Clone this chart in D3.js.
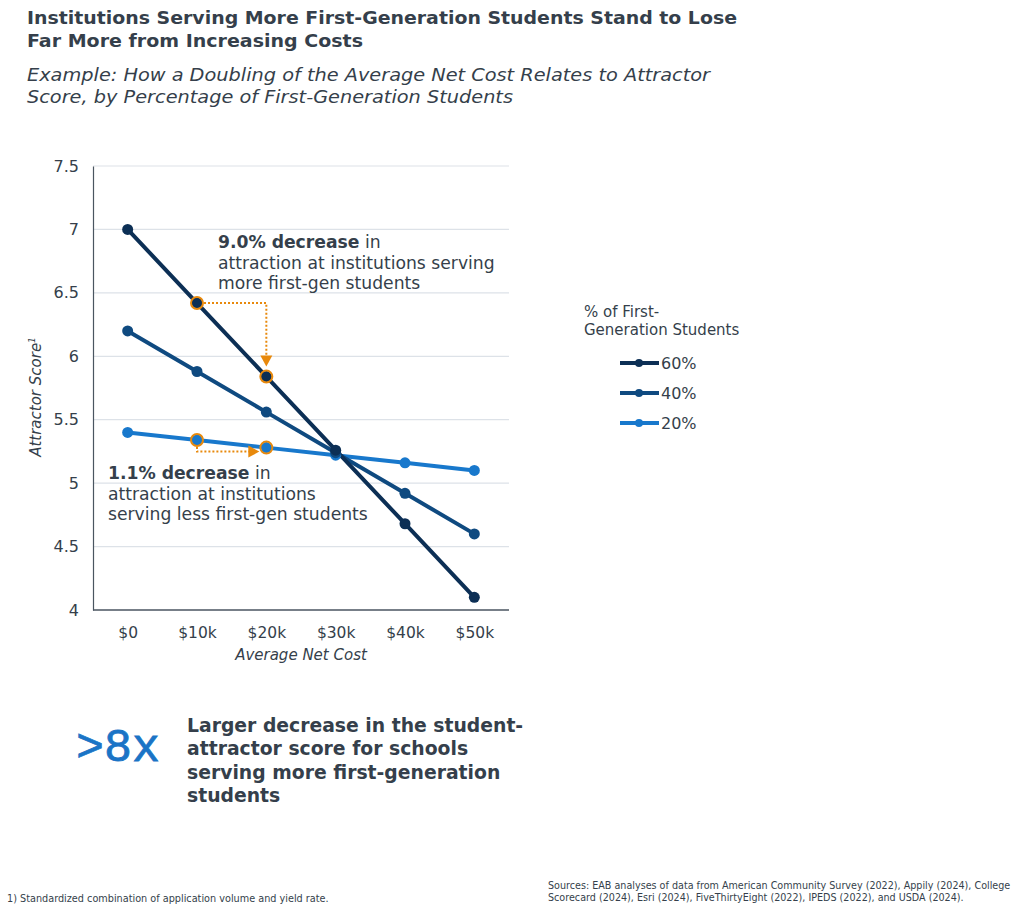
<!DOCTYPE html>
<html><head><meta charset="utf-8">
<script src="https://cdn.jsdelivr.net/npm/d3@7"></script>
<style>body{margin:0;background:#fff;} svg{display:block;}</style>
</head><body>
<svg id="c" width="1024" height="910"></svg>
<script>
const categories = ["$0","$10k","$20k","$30k","$40k","$50k"];
const seriesNames = ["60%","40%","20%"];
const values60 = [7.00,6.42,5.84,5.26,4.68,4.10];
const values40 = [6.20,5.88,5.56,5.24,4.92,4.60];
const values20 = [5.40,5.34,5.28,5.22,5.16,5.10];
const yTicks = [4,4.5,5,5.5,6,6.5,7,7.5];
const colors = {"60%":"#0c2f55","40%":"#0f4a80","20%":"#1878cc"};
const series = [
  {name:"60%", values:values60},
  {name:"40%", values:values40},
  {name:"20%", values:values20}
];
const textCol = "#353f4b";
const orange = "#e8890c";
const body = "DejaVu Sans, Verdana, sans-serif";

const svg = d3.select("#c");
// Title
const title = svg.append("text").attr("font-family",body).attr("font-weight","bold")
  .attr("font-size",18).attr("fill",textCol);
title.append("tspan").attr("x",27).attr("y",24).attr("textLength",710).attr("lengthAdjust","spacingAndGlyphs")
  .text("Institutions Serving More First-Generation Students Stand to Lose");
title.append("tspan").attr("x",27).attr("y",47).attr("textLength",336).attr("lengthAdjust","spacingAndGlyphs")
  .text("Far More from Increasing Costs");
const sub = svg.append("text").attr("font-family",body).attr("font-style","italic")
  .attr("font-size",17.5).attr("fill",textCol);
sub.append("tspan").attr("x",27).attr("y",81).attr("textLength",683).attr("lengthAdjust","spacingAndGlyphs")
  .text("Example: How a Doubling of the Average Net Cost Relates to Attractor");
sub.append("tspan").attr("x",27).attr("y",103).attr("textLength",486).attr("lengthAdjust","spacingAndGlyphs")
  .text("Score, by Percentage of First-Generation Students");

// scales
const x = d3.scalePoint().domain(categories).range([93,509]).padding(0.5);
const y = d3.scaleLinear().domain([4,7.5]).range([610,166]);

// gridlines
svg.append("g").selectAll("line").data(yTicks.filter(t=>t>4)).join("line")
  .attr("x1",93).attr("x2",509).attr("y1",d=>y(d)).attr("y2",d=>y(d))
  .attr("stroke","#dde2e8").attr("stroke-width",1.2);

// y axis
const ya = svg.append("g").attr("transform","translate(93,0)")
  .call(d3.axisLeft(y).tickValues(yTicks).tickFormat(d=>d3.format("")(d)).tickSize(0).tickPadding(14));
ya.select(".domain").attr("stroke","#4a5560").attr("stroke-width",1.2);
ya.selectAll("text").attr("font-family",body).attr("font-size",16).attr("fill",textCol);

// x axis
const xa = svg.append("g").attr("transform","translate(0,610)")
  .call(d3.axisBottom(x).tickSize(0).tickPadding(17));
xa.select(".domain").attr("d","M93,0H509").attr("stroke","#4a5560").attr("stroke-width",1.5);
xa.selectAll("text").attr("font-family",body).attr("font-size",15.5).attr("fill",textCol);

svg.append("text").attr("x",301).attr("y",660).attr("text-anchor","middle")
  .attr("font-family",body).attr("font-style","italic").attr("font-size",15).attr("fill",textCol)
  .text("Average Net Cost");
const yt = svg.append("text").attr("transform","translate(41,397) rotate(-90)").attr("text-anchor","middle")
  .attr("font-family",body).attr("font-style","italic").attr("font-size",15).attr("fill",textCol);
yt.append("tspan").text("Attractor Score");
yt.append("tspan").attr("font-size",9).attr("dy",-6).text("1");

// lines
const line = d3.line().x((d,i)=>x(categories[i])).y(d=>y(d));
const order = ["20%","40%","60%"];
const gl = svg.append("g");
order.forEach(n=>{
  const s = series.find(s=>s.name===n);
  gl.append("path").attr("d",line(s.values)).attr("fill","none").attr("stroke",colors[n]).attr("stroke-width",4);
});
order.forEach(n=>{
  const s = series.find(s=>s.name===n);
  gl.append("g").selectAll("circle").data(s.values).join("circle")
    .attr("cx",(d,i)=>x(categories[i])).attr("cy",d=>y(d)).attr("r",5.5).attr("fill",colors[n]);
});

// highlights
const hl = [[values60,1],[values60,2],[values20,1],[values20,2]];
hl.forEach(([v,i])=>{
  svg.append("circle").attr("cx",x(categories[i])).attr("cy",y(v[i])).attr("r",6)
    .attr("fill","none").attr("stroke",orange).attr("stroke-width",2);
});
// arrows
const ax1 = x(categories[1]), ax2 = x(categories[2]);
svg.append("path").attr("d",`M${ax1+7},${y(values60[1])}H${ax2}V${y(values60[2])-20}`)
  .attr("fill","none").attr("stroke",orange).attr("stroke-width",2).attr("stroke-dasharray","2,2");
svg.append("path").attr("d",`M${ax2-6},${y(values60[2])-21}L${ax2+6},${y(values60[2])-21}L${ax2},${y(values60[2])-10}Z`)
  .attr("fill",orange);
svg.append("path").attr("d",`M${ax1},${y(values20[1])+7}V${y(values20[2])+4}H${ax2-17}`)
  .attr("fill","none").attr("stroke",orange).attr("stroke-width",2).attr("stroke-dasharray","2,2");
svg.append("path").attr("d",`M${ax2-18},${y(values20[2])-2}L${ax2-18},${y(values20[2])+10}L${ax2-7},${y(values20[2])+4}Z`)
  .attr("fill",orange);

// annotations
function ann(xp, yp, lines){
  const t = svg.append("text").attr("font-family",body).attr("font-size",17.2).attr("fill",textCol);
  lines.forEach((l,k)=>{
    const ts = t.append("tspan").attr("x",xp).attr("y",yp+k*20.5);
    if(k===0){
      ts.append("tspan").attr("font-weight","bold").text(l[0]);
      ts.append("tspan").text(l[1]);
    } else ts.text(l);
  });
}
ann(218,248,[["9.0% decrease"," in"],"attraction at institutions serving","more first-gen students"]);
ann(108,479,[["1.1% decrease"," in"],"attraction at institutions","serving less first-gen students"]);

// legend
const lg = svg.append("text").attr("font-family",body).attr("font-size",15).attr("fill",textCol);
lg.append("tspan").attr("x",584).attr("y",317).text("% of First-");
lg.append("tspan").attr("x",584).attr("y",335).text("Generation Students");
seriesNames.forEach((n,k)=>{
  const yy = 363 + k*30;
  svg.append("line").attr("x1",620).attr("x2",659).attr("y1",yy).attr("y2",yy)
    .attr("stroke",colors[n]).attr("stroke-width",4);
  svg.append("circle").attr("cx",639).attr("cy",yy).attr("r",4).attr("fill",colors[n]);
  svg.append("text").attr("x",661).attr("y",yy+6).attr("font-family",body).attr("font-size",16)
    .attr("fill",textCol).text(n);
});

// callout
svg.append("text").attr("x",76).attr("y",761)
  .attr("font-family","Courier New, Courier, Nimbus Mono PS, FreeMono, Liberation Mono, monospace")
  .attr("font-size",46).attr("fill","#1a74c6").attr("stroke","#1a74c6").attr("stroke-width",0.8)
  .attr("textLength",84).attr("lengthAdjust","spacingAndGlyphs").text(">8x");
const co = svg.append("text").attr("font-family",body).attr("font-weight","bold").attr("font-size",18.8).attr("fill",textCol);
["Larger decrease in the student-","attractor score for schools","serving more first-generation","students"].forEach((l,k)=>{
  co.append("tspan").attr("x",187).attr("y",732+k*23.3).text(l);
});

// footnotes
svg.append("text").attr("x",7).attr("y",902).attr("font-family",body).attr("font-size",9.7).attr("fill",textCol)
  .text("1)  Standardized combination of application volume and yield rate.");
const src = svg.append("text").attr("font-family",body).attr("font-size",9.6).attr("fill",textCol);
src.append("tspan").attr("x",548).attr("y",889).text("Sources: EAB analyses of data from American Community Survey (2022), Appily (2024), College");
src.append("tspan").attr("x",548).attr("y",901).text("Scorecard (2024), Esri (2024), FiveThirtyEight (2022), IPEDS (2022), and USDA (2024).");
</script>
</body></html>
